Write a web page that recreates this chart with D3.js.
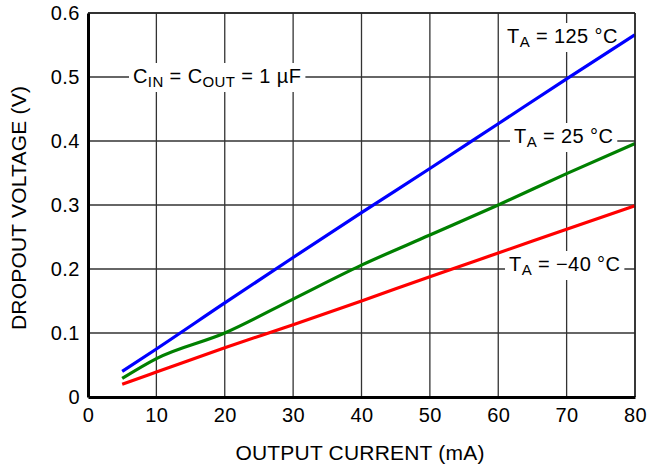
<!DOCTYPE html>
<html>
<head>
<meta charset="utf-8">
<script src="https://cdn.jsdelivr.net/npm/d3@7"></script>
<style>
  html, body { margin: 0; padding: 0; background: #fff; }
  svg { display: block; }
  text { font-family: "Liberation Sans", Arial, Helvetica, sans-serif; fill: #000; }
</style>
</head>
<body>
<svg id="chart" width="649" height="467"></svg>
<script>
// ---- data ----
const current = [5, 10, 20, 30, 40, 50, 60, 70, 80];
const dropout125 = [0.040, 0.075, 0.147, 0.218, 0.288, 0.357, 0.427, 0.497, 0.566];
const dropout25  = [0.029, 0.060, 0.100, 0.153, 0.206, 0.253, 0.300, 0.349, 0.396];
const dropoutM40 = [0.020, 0.039, 0.077, 0.113, 0.150, 0.188, 0.225, 0.262, 0.299];
const xTicks = [0, 10, 20, 30, 40, 50, 60, 70, 80];
const yTicks = [0, 0.1, 0.2, 0.3, 0.4, 0.5, 0.6];
const yTickLabels = ["0", "0.1", "0.2", "0.3", "0.4", "0.5", "0.6"];

const svg = d3.select("#chart");
const L = 88, R = 635, T = 13, B = 397;
const x = d3.scaleLinear().domain([0, 80]).range([L, R]);
const y = d3.scaleLinear().domain([0, 0.6]).range([B, T]);

// grid
const grid = svg.append("g");
grid.selectAll("line.v").data(xTicks.slice(1)).enter().append("line")
  .attr("x1", d => x(d)).attr("x2", d => x(d)).attr("y1", T).attr("y2", B)
  .attr("stroke", "#333").attr("stroke-width", 1.3);
grid.selectAll("line.h").data(yTicks.slice(1)).enter().append("line")
  .attr("x1", L).attr("x2", R).attr("y1", d => y(d)).attr("y2", d => y(d))
  .attr("stroke", "#333").attr("stroke-width", 1.3);

// labels with white background
function label(parts, x0, base) {
  const g = svg.append("g");
  const t = g.append("text").attr("x", x0).attr("y", base).attr("font-size", 20)
    .attr("letter-spacing", 0.4);
  parts.forEach(p => {
    if (p.sub) {
      t.append("tspan").attr("font-size", 15).attr("dy", 4).text(p.t);
    } else {
      t.append("tspan").attr("dy", p.after ? -4 : 0).text(p.t);
    }
  });
  const bb = t.node().getBBox();
  g.insert("rect", "text").attr("x", bb.x - 4).attr("y", bb.y - 2)
    .attr("width", bb.width + 8).attr("height", bb.height + 4).attr("fill", "#fff");
}

// curves
const line = d3.line().x(d => x(d[0])).y(d => y(d[1])).curve(d3.curveMonotoneX);
const series = [
  { v: dropoutM40, c: "#ff0000" },
  { v: dropout25, c: "#008000" },
  { v: dropout125, c: "#0000ff" }
];

// axes
const xAxis = d3.axisBottom(x).tickValues(xTicks).tickSize(0).tickPadding(11);
const yAxis = d3.axisLeft(y).tickValues(yTicks).tickSize(0).tickPadding(8)
  .tickFormat((d, i) => yTickLabels[i]);

label([{ t: "C" }, { t: "IN", sub: true }, { t: " = C", after: true }, { t: "OUT", sub: true }, { t: " = 1 µF", after: true }], 133, 83);
label([{ t: "T" }, { t: "A", sub: true }, { t: " = 125 °C", after: true }], 507, 43);
label([{ t: "T" }, { t: "A", sub: true }, { t: " = 25 °C", after: true }], 514, 143);
label([{ t: "T" }, { t: "A", sub: true }, { t: " = −40 °C", after: true }], 509, 271);

series.forEach(s => {
  svg.append("path").datum(current.map((c, i) => [c, s.v[i]]))
    .attr("d", line).attr("fill", "none").attr("stroke", s.c)
    .attr("stroke-width", 3.2).attr("stroke-linecap", "butt");
});

// border top/right
svg.append("line").attr("x1", L).attr("x2", R).attr("y1", T).attr("y2", T).attr("stroke", "#222").attr("stroke-width", 1.5);
svg.append("line").attr("x1", R).attr("x2", R).attr("y1", T).attr("y2", B).attr("stroke", "#222").attr("stroke-width", 1.5);

const gx = svg.append("g").attr("transform", `translate(0,${B})`).call(xAxis);
gx.select(".domain").attr("stroke", "#000").attr("stroke-width", 3);
gx.selectAll("text").attr("font-size", 20).attr("letter-spacing", 0.5)
  .style("font-family", "Liberation Sans, Arial, sans-serif");

const gy = svg.append("g").attr("transform", `translate(${L},0)`).call(yAxis);
gy.select(".domain").attr("stroke", "#000").attr("stroke-width", 3);
gy.selectAll("text").attr("font-size", 20).attr("letter-spacing", 0.5)
  .style("font-family", "Liberation Sans, Arial, sans-serif");

// axis titles
svg.append("text").attr("x", 360).attr("y", 460).attr("text-anchor", "middle")
  .attr("font-size", 21).attr("letter-spacing", 0.2).text("OUTPUT CURRENT (mA)");
svg.append("text").attr("transform", `translate(26,208) rotate(-90)`)
  .attr("text-anchor", "middle").attr("font-size", 21).attr("letter-spacing", 0.2)
  .text("DROPOUT VOLTAGE (V)");
</script>
</body>
</html>
